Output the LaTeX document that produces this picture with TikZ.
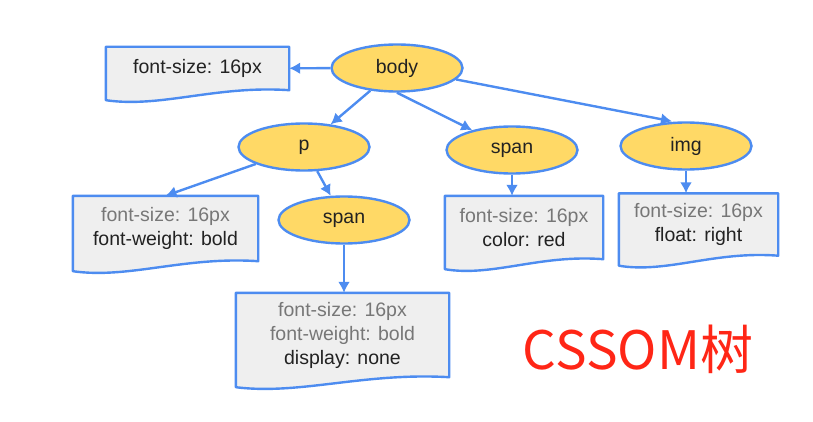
\documentclass[tikz,border=0pt]{standalone}
\usepackage{fontspec}
\setmainfont{Liberation Sans}
\newfontfamily\cjkfont{Noto Sans CJK SC}
\usetikzlibrary{shapes.geometric,arrows.meta,calc,backgrounds}
\definecolor{nodeblue}{HTML}{4D8CF0}
\definecolor{nodeyellow}{HTML}{FFD966}
\definecolor{boxgray}{HTML}{EFEFEF}
\definecolor{inherited}{HTML}{777777}
\definecolor{owntext}{HTML}{222222}
\definecolor{titlered}{HTML}{FF2616}
\begin{document}
\begin{tikzpicture}[
        x=1pt, y=-1pt,
        every node/.style={font=\fontsize{19.5}{24}\selectfont, text=owntext},
        elem/.style={draw=nodeblue, line width=2.4pt, ellipse, fill=nodeyellow,
            minimum width=131pt, minimum height=47pt, inner sep=0pt},
        rules/.style={align=center, inner sep=0pt},
        docline/.style={draw=nodeblue, line width=2.4pt, fill=boxgray, line join=round},
        arrow/.style={-{Latex[length=11pt,width=12pt]}, draw=nodeblue, line width=2.4pt}
    ]
        \useasboundingbox (0,0) rectangle (813,422);

        % DOM elements
        \node[elem] (body) at (397,68) {body};
        \node[elem] (p) at (304,147) {p};
        \node[elem] (s2) at (344,220) {span};
        \node[elem] (sr) at (512,150) {span};
        \node[elem] (img) at (686,146) {img};

        % computed style boxes
        \node[rules, minimum width=183pt, minimum height=43pt] (b0) at (197.5,68.5)
            {font-size: 16px};
        \node[rules, minimum width=185pt, minimum height=65pt] (bp) at (165.5,228.5)
            {{\color{inherited}font-size: 16px}\\font-weight: bold};
        \node[rules, minimum width=213pt, minimum height=84pt] (bs2) at (342.5,335)
            {{\color{inherited}font-size: 16px}\\{\color{inherited}font-weight: bold}\\display: none};
        \node[rules, minimum width=158pt, minimum height=63pt] (bs) at (524,227.5)
            {{\color{inherited}font-size: 16px}\\color: red};
        \node[rules, minimum width=159pt, minimum height=62pt] (bi) at (698.5,224.5)
            {{\color{inherited}font-size: 16px}\\float: right};

        % wavy document outlines
        \begin{scope}[on background layer]
            \foreach \n in {b0,bp,bs2,bs,bi}
            {
                \path[docline] (\n.north west) -- (\n.north east) -- (\n.south east)
                    .. controls ($(\n.south east)!0.4!(\n.south west)+(0,-5)$)
                    and ($(\n.south east)!0.7!(\n.south west)+(0,18)$)
                    .. ($(\n.south west)+(0,10)$) -- cycle;
            }
        \end{scope}

        % connectors
        \draw[arrow] (body) -- (b0);
        \draw[arrow] (body) -- (p);
        \draw[arrow] (body.south) -- (sr);
        \draw[arrow] (body) -- ([xshift=-14pt]img.north);
        \draw[arrow] (p) -- (bp.north);
        \draw[arrow] (p) -- (s2);
        \foreach \a/\b in {s2/bs2,sr/bs,img/bi}
            \draw[arrow] (\a.south) -- (\a.south |- \b.north);

        \node[font=\cjkfont\fontsize{53}{56}\selectfont, text=titlered] (title) at (638,349) {CSSOM树};
    \end{tikzpicture}
\end{document}
